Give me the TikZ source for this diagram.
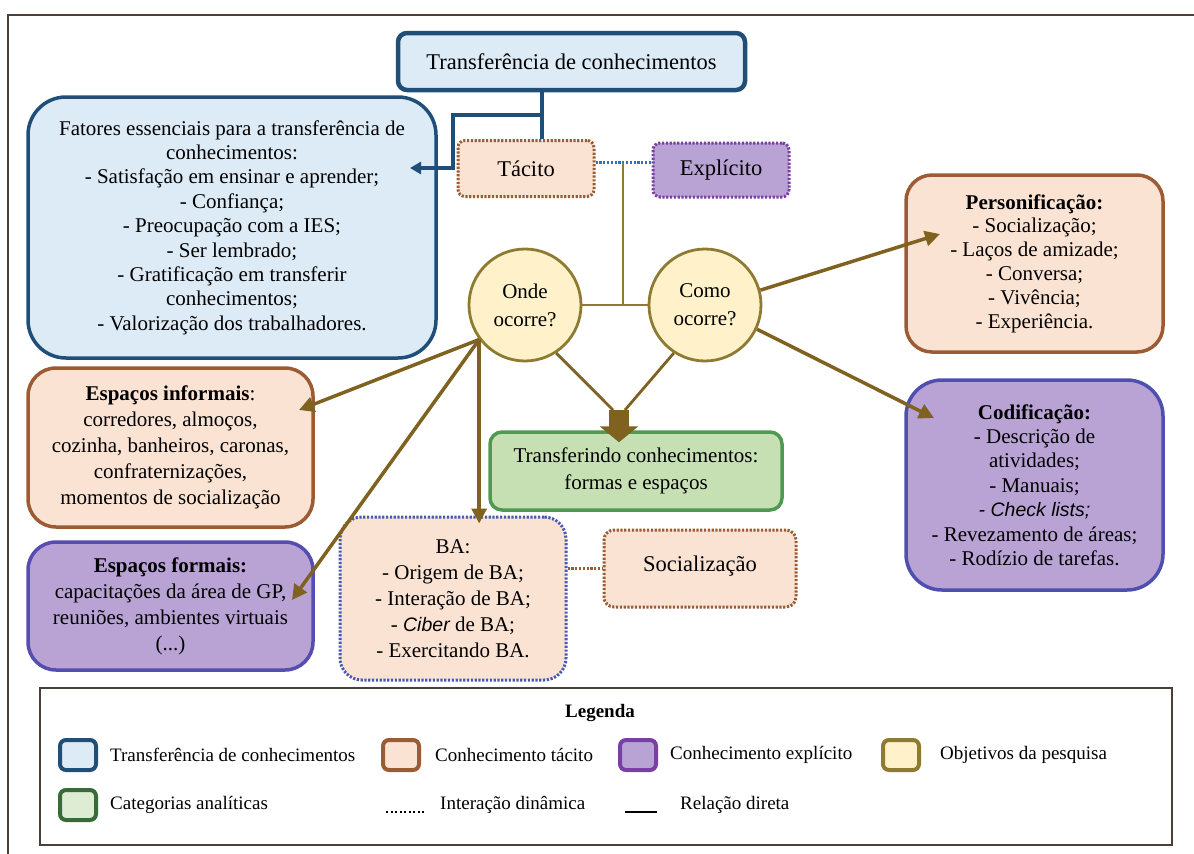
\documentclass[tikz,border=0pt]{standalone}
\usepackage{fontspec}
\setmainfont{Liberation Serif}
\setsansfont{Liberation Sans}
\usetikzlibrary{arrows.meta,calc}

\definecolor{tblue}{HTML}{1F4E79}
\definecolor{tbluef}{HTML}{DDEBF7}
\definecolor{tbrown}{HTML}{9C5B32}
\definecolor{tpeach}{HTML}{FBE3D4}
\definecolor{epurp}{HTML}{7A3FA6}
\definecolor{epurpf}{HTML}{B9A3D5}
\definecolor{eblue}{HTML}{4F4FB0}
\definecolor{ygold}{HTML}{8F7A32}
\definecolor{yfill}{HTML}{FFF1C9}
\definecolor{arrc}{HTML}{7F6120}
\definecolor{gfill}{HTML}{C6E0B4}
\definecolor{gbord}{HTML}{4F9A52}
\definecolor{dotblue}{HTML}{2E75B6}
\definecolor{framec}{HTML}{4A3F3A}

\newcommand\bodyfont{\fontsize{21}{24.4}\selectfont}
\newcommand\headfont{\fontsize{22.5}{27}\selectfont}
\newcommand\legfont{\fontsize{19}{22}\selectfont}

\tikzset{
  box/.style={draw, align=center, inner sep=0pt, font=\bodyfont, line width=3.5pt},
  bluebox/.style={box, draw=tblue, fill=tbluef},
  tacbox/.style={box, draw=tbrown, fill=tpeach},
  expbox/.style={box, draw=eblue, fill=epurpf},
  dotbox/.style={box, line width=3pt, dash pattern=on 2.2pt off 1.6pt},
  goal/.style={circle, draw=ygold, fill=yfill, line width=2.8pt, inner sep=0pt,
    minimum size=112pt, align=center, font=\fontsize{21}{28}\selectfont},
  arr/.style={draw=arrc, line width=3.5pt, -{Triangle[length=15pt,width=15pt]}},
  oline/.style={draw=ygold, line width=2.8pt},
  bline/.style={draw=tblue, line width=3.5pt},
  dline/.style={line width=3pt, dash pattern=on 2.2pt off 1.6pt},
  swatch/.style={draw, rounded corners=6pt, line width=4pt, minimum width=36pt, minimum height=30pt, inner sep=0pt},
  legtext/.style={anchor=west, font=\legfont, inner sep=0pt}
}

\begin{document}
\begin{tikzpicture}[x=1pt,y=-1pt]
\useasboundingbox (0,0) rectangle (1194,854);

% outer frame (top and left rules)
\draw[framec, line width=1.6pt] (8,854) -- (8,15) -- (1194,15);

% main boxes
\node[bluebox, line width=4.5pt, rounded corners=9pt, minimum width=347pt, minimum height=57pt, font=\headfont] (title) at (571.5,61.5) {Transferência de conhecimentos};

\node[bluebox, rounded corners=38pt, minimum width=408pt, minimum height=261pt] (fat) at (232,227.5)
  {Fatores essenciais para a transferência de\\conhecimentos:\\- Satisfação em ensinar e aprender;\\- Confiança;\\- Preocupação com a IES;\\- Ser lembrado;\\- Gratificação em transferir\\conhecimentos;\\- Valorização dos trabalhadores.};

\node[tacbox, dotbox, rounded corners=7pt, minimum width=136pt, minimum height=56pt, font=\headfont] (tac) at (526,168.5) {Tácito};
\node[box, dotbox, draw=epurp, fill=epurpf, rounded corners=7pt, minimum width=136pt, minimum height=54pt, font=\headfont] (exp) at (721,170) {Explícito};

\node[goal] (onde) at (525,305) {Onde\\ocorre?};
\node[goal] (como) at (705,305) {Como\\ocorre?};

\node[tacbox, rounded corners=26pt, minimum width=257pt, minimum height=177pt, font=\fontsize{21}{23.8}\selectfont] (pers) at (1034.5,263.5)
  {\textbf{Personificação:}\\- Socialização;\\- Laços de amizade;\\- Conversa;\\- Vivência;\\- Experiência.};

\node[expbox, rounded corners=36pt, minimum width=257pt, minimum height=210pt] (cod) at (1034.5,485)
  {\textbf{Codificação:}\\- Descrição de\\atividades;\\- Manuais;\\{\sffamily\itshape\fontsize{19.5}{24.4}\selectfont - Check lists;}\\- Revezamento de áreas;\\- Rodízio de tarefas.};

\node[tacbox, rounded corners=28pt, minimum width=285pt, minimum height=159pt, font=\fontsize{21}{26}\selectfont] (inf) at (170.5,447.5)
  {\textbf{Espaços informais}:\\corredores, almoços,\\cozinha, banheiros, caronas,\\confraternizações,\\momentos de socialização};

\node[expbox, draw=eblue!85!epurp, rounded corners=28pt, minimum width=285pt, minimum height=128pt, font=\fontsize{21}{26}\selectfont] (form) at (170.5,606)
  {\textbf{Espaços formais:}\\capacitações da área de GP,\\reuniões, ambientes virtuais\\(...)};

\node[box, draw=gbord, fill=gfill, rounded corners=12pt, minimum width=292pt, minimum height=78pt, font=\fontsize{21}{27}\selectfont] (trf) at (636,471)
  {Transferindo conhecimentos:\\formas e espaços};

\node[tacbox, dotbox, draw=eblue!70!dotblue, rounded corners=22pt, minimum width=226pt, minimum height=163pt, font=\fontsize{21}{26}\selectfont] (ba) at (453,598.5)
  {BA:\\- Origem de BA;\\- Interação de BA;\\- {\sffamily\itshape\fontsize{19.5}{26}\selectfont Ciber} de BA;\\- Exercitando BA.};

\node[tacbox, dotbox, rounded corners=10pt, minimum width=192pt, minimum height=77pt, text depth=10pt, font=\headfont] (soc) at (700,568.5) {Socialização};

% transfer box links
\coordinate (tj) at (542,115);
\coordinate (fattip) at (410,168);
\draw[bline] (title.south -| tj) -- (tac.north -| tj);
\draw[bline, -{Triangle[length=11pt,width=12pt]}] (tj) -- ++(-89,0) |- (fattip);

% tacit / explicit interaction
\coordinate (tdot) at ($(tac.east)+(0,-6)$);
\draw[dotblue, dline] (tdot) -- (tdot -| exp.west);
\coordinate (vj) at (623,0 |- tdot);
\draw[oline] (onde.east) -- (como.west);
\draw[oline] (vj) -- (vj |- onde.east);

% arrows from the research questions
\coordinate (tipInf) at (299,410);
\coordinate (tipForm) at (292,600);
\coordinate (tipPers) at (940,234);
\coordinate (tipCod) at (934,418);
\draw[arr] (onde.217) -- (tipInf);
\draw[arr] (onde.217) -- (tipForm);
\draw[arr] (onde.217) -- ($(onde.217 |- ba.north)+(0,8)$);
\draw[arr] (como.15) -- (tipPers);
\draw[arr] (como.-25) -- (tipCod);

% converging lines and block arrow to the analytic category
\coordinate (conv) at (619,410);
\draw[oline, draw=arrc] (onde.-57) -- ($(conv)+(-6,0)$);
\draw[oline, draw=arrc] (como.237) -- ($(conv)+(6,0)$);
\draw[draw=arrc, line width=20pt, -{Triangle[length=16pt,width=38pt]}] (conv) -- (conv |- trf.north) -- ++(0,12);

% BA / Socialização interaction
\draw[tbrown, dline] (ba.east |- soc.west) -- (soc.west);

% legend
\node[draw=framec, line width=1.6pt, minimum width=1132pt, minimum height=157pt, inner sep=0pt] (leg) at (606,766.5) {};
\node[font=\bfseries\legfont] (legt) at (600,713) {Legenda};

\node[swatch, draw=tblue, fill=tbluef] (s1) at (78,755) {};
\node[legtext] (l1) at (110,755) {Transferência de conhecimentos};
\node[swatch, draw=tbrown, fill=tpeach] (s2) at (401,755) {};
\node[legtext] (l2) at (435,755) {Conhecimento tácito};
\node[swatch, draw=epurp, fill=epurpf] (s3) at (638,755) {};
\node[legtext] (l3) at (670,755) {Conhecimento explícito};
\node[swatch, draw=ygold, fill=yfill] (s4) at (901,755) {};
\node[legtext] (l4) at (940,755) {Objetivos da pesquisa};

\node[swatch, draw=gbord!70!black, fill=gfill!60] (s5) at (78,805) {};
\node[legtext] (l5) at (110,805) {Categorias analíticas};
\coordinate (d1) at (386,812);
\draw[black, line width=2.4pt, dash pattern=on 2pt off 2.5pt] (d1) -- ++(40,0);
\node[legtext] (l6) at (440,805) {Interação dinâmica};
\coordinate (r1) at (625,812);
\draw[black, line width=2pt] (r1) -- ++(32,0);
\node[legtext] (l7) at (680,805) {Relação direta};
\end{tikzpicture}
\end{document}
